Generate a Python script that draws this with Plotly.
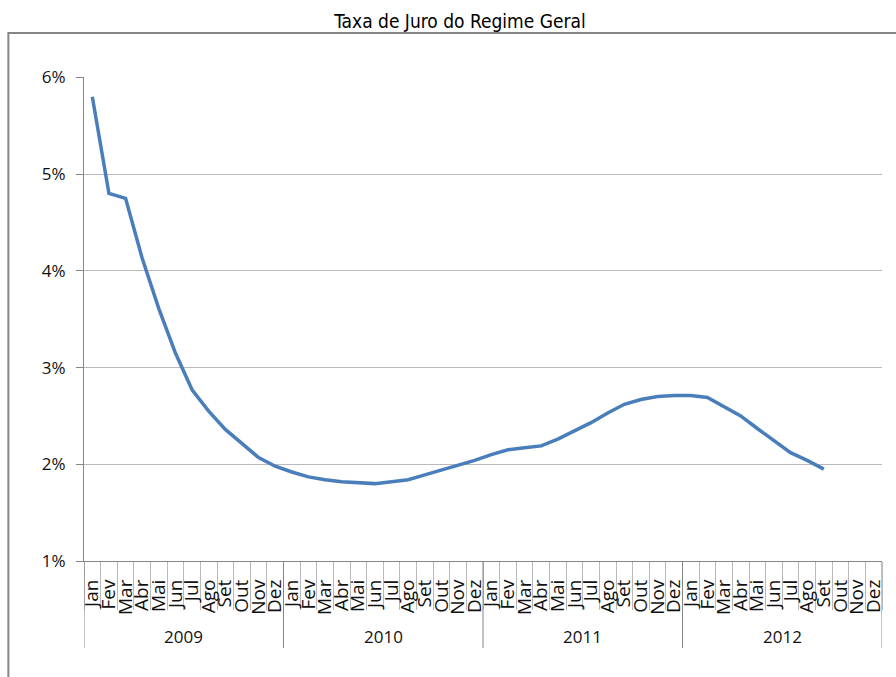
import plotly.graph_objects as go

# Monthly interest rate series (percent), Jan 2009 – Set 2012
years = ["2009", "2010", "2011", "2012"]
months = ["Jan", "Fev", "Mar", "Abr", "Mai", "Jun",
          "Jul", "Ago", "Set", "Out", "Nov", "Dez"]

rate_2009 = [5.80, 4.80, 4.75, 4.13, 3.61, 3.15, 2.77, 2.55, 2.36, 2.21, 2.07, 1.98]
rate_2010 = [1.92, 1.87, 1.84, 1.82, 1.81, 1.80, 1.82, 1.84, 1.89, 1.94, 1.99, 2.04]
rate_2011 = [2.10, 2.15, 2.17, 2.19, 2.26, 2.34, 2.43, 2.53, 2.62, 2.67, 2.70, 2.71]
rate_2012 = [2.71, 2.69, 2.60, 2.50, 2.37, 2.24, 2.12, 2.04, 1.95]

y_ticks = [1, 2, 3, 4, 5, 6]
y_labels = ["1%", "2%", "3%", "4%", "5%", "6%"]

rates = rate_2009 + rate_2010 + rate_2011 + rate_2012
n_cat = len(years) * len(months)
x_idx = list(range(len(rates)))
cat_idx = list(range(n_cat))
month_labels = months * len(years)
boundaries = [i - 0.5 for i in range(n_cat + 1)]

GRID = "#b9b9b9"
AXIS = "#868686"
BLUE = "#4a7ebb"
TEXT = "#111111"

fig = go.Figure()
fig.add_trace(go.Scatter(
    x=x_idx, y=rates, mode="lines",
    line=dict(color=BLUE, width=3.5),
    hoverinfo="skip", showlegend=False,
))

# year separators and labels below the month labels
group_len = len(months)
for k, yr in enumerate(years):
    fig.add_annotation(
        x=k * group_len + (group_len - 1) / 2, y=-0.157,
        xref="x", yref="paper", text=yr, showarrow=False,
        font=dict(family="Open Sans", size=17, color=TEXT),
        yanchor="middle",
    )
for k in range(len(years) + 1):
    xb = k * group_len - 0.5
    fig.add_shape(type="line", xref="x", yref="paper",
                  x0=xb, x1=xb, y0=0, y1=-0.18,
                  line=dict(color=AXIS, width=1))

# outer chart frame
fig.add_shape(type="rect", xref="paper", yref="paper",
              x0=-0.0948, x1=1.05, y0=-0.3, y1=1.0909,
              line=dict(color=AXIS, width=2), layer="below")

fig.update_layout(
    width=896, height=677,
    margin=dict(l=84, r=10, t=77, b=116),
    paper_bgcolor="white", plot_bgcolor="white",
    title=dict(
        text="Taxa de Juro do Regime Geral",
        x=460 / 896, xref="container", xanchor="center",
        y=1 - 21 / 677, yref="container", yanchor="middle",
        font=dict(family="Liberation Sans Narrow, DejaVu Sans Condensed, Liberation Sans",
                  size=19, color="#000000"),
    ),
    xaxis=dict(
        range=[-0.5, n_cat - 0.5],
        tickmode="array", tickvals=cat_idx, ticktext=month_labels,
        tickangle=-90, ticks="", ticklabelstandoff=10,
        tickfont=dict(family="Open Sans", size=19, color=TEXT),
        showline=True, linecolor=AXIS, linewidth=1,
        showgrid=False, zeroline=False,
        minor=dict(tickmode="array", tickvals=boundaries,
                   ticks="outside", ticklen=48, tickcolor=GRID,
                   tickwidth=1, showgrid=False),
    ),
    yaxis=dict(
        range=[1, 6.004],
        tickmode="array", tickvals=y_ticks, ticktext=y_labels,
        ticks="outside", ticklen=7, tickcolor=AXIS,
        ticklabelstandoff=7,
        tickfont=dict(family="Open Sans", size=17, color=TEXT),
        showline=True, linecolor=AXIS, linewidth=1,
        showgrid=True, gridcolor=GRID, gridwidth=1,
        zeroline=False,
    ),
)

fig.write_html("out.html")
